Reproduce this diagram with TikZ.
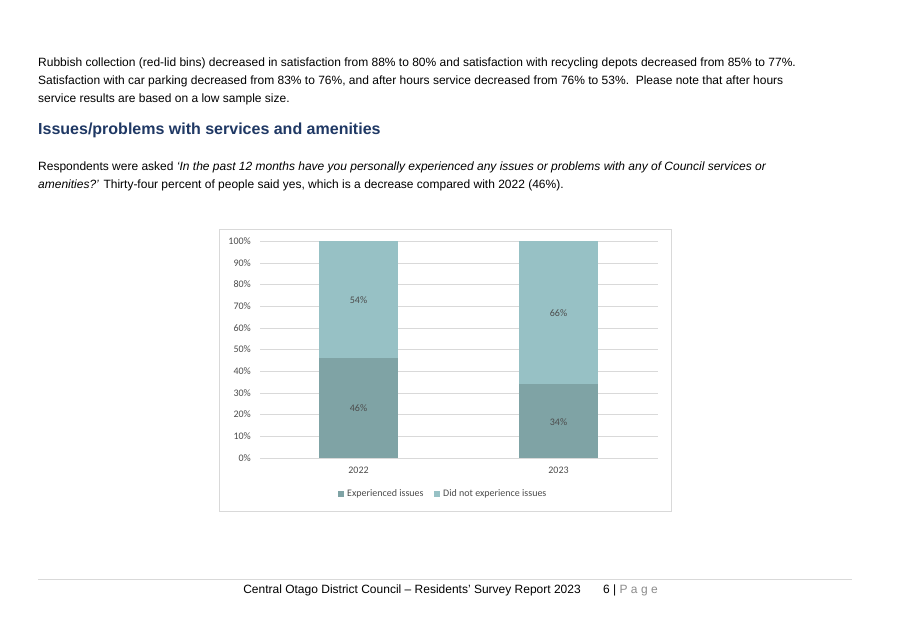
\documentclass[tikz,border=0pt]{standalone}
\usepackage{fontspec}
\setmainfont{Liberation Sans}
\newfontfamily\chartfont{Carlito}
\usetikzlibrary{positioning}
\definecolor{headblue}{HTML}{1F3864}
\definecolor{darkbar}{HTML}{7FA3A5}
\definecolor{lightbar}{HTML}{97C1C5}
\definecolor{gridgray}{HTML}{D9D9D9}
\tikzset{body/.style={anchor=west,inner sep=0pt,font={\fontsize{12pt}{14}\selectfont}},
         chart/.style={inner sep=0pt,font={\chartfont\fontsize{10pt}{12}\selectfont},text=black!70}}
\begin{document}
\begin{tikzpicture}[x=1pt,y=-1pt]
  \useasboundingbox[fill=white] (0,0) rectangle (907,626);
  % text
  \node[body] (l1) at (38,63) {Rubbish collection (red-lid bins) decreased in satisfaction from 88\% to 80\% and satisfaction with recycling depots decreased from 85\% to 77\%.};
  \node[body] (l2) at (38,81) {Satisfaction with car parking decreased from 83\% to 76\%, and after hours service decreased from 76\% to 53\%.\ \ Please note that after hours};
  \node[body] (l3) at (38,99) {service results are based on a low sample size.};
  \node[body,font={\fontsize{16pt}{18}\selectfont\bfseries},text=headblue] (head) at (38,130) {Issues/problems with services and amenities};
  \node[body] (p1) at (38,167) {Respondents were asked \textit{`In the past 12 months have you personally experienced any issues or problems with any of Council services or}};
  \node[body] (p2) at (38,185) {\textit{amenities?'} Thirty-four percent of people said yes, which is a decrease compared with 2022 (46\%).};
  % chart
  \draw[gridgray] (219,229) rectangle (671,511);
  \foreach \p in {0,10,...,100}{
    \draw[gridgray] (260,458-2.17*\p) -- (658,458-2.17*\p);
    \node[chart,anchor=east] at (251,458-2.17*\p) {\p\%};
  }
  \fill[darkbar] (319,458) rectangle (398,458-2.17*46);
  \fill[lightbar] (319,458-2.17*46) rectangle (398,241);
  \fill[darkbar] (519,458) rectangle (598,458-2.17*34);
  \fill[lightbar] (519,458-2.17*34) rectangle (598,241);
  \node[chart] (a1) at (358.5,408) {46\%};
  \node[chart] (a2) at (358.5,300) {54\%};
  \node[chart] (b1) at (558.5,422) {34\%};
  \node[chart] (b2) at (558.5,313) {66\%};
  \node[chart] (y1) at (358.5,470) {2022};
  \node[chart] (y2) at (558.5,470) {2023};
  \fill[darkbar] (338,491) rectangle (344,497);
  \node[chart,anchor=west] (lg1) at (347,494) {Experienced issues};
  \fill[lightbar] (434,491) rectangle (440,497);
  \node[chart,anchor=west] (lg2) at (443,494) {Did not experience issues};
  % footer
  \draw[gridgray] (38,579) -- (852,579);
  \node[body,anchor=east] (foot) at (581,590) {Central Otago District Council -- Residents' Survey Report 2023};
  \node[body] (pg) at (603,590) {6 | \textcolor{black!45}{P a g e}};
\end{tikzpicture}
\end{document}
